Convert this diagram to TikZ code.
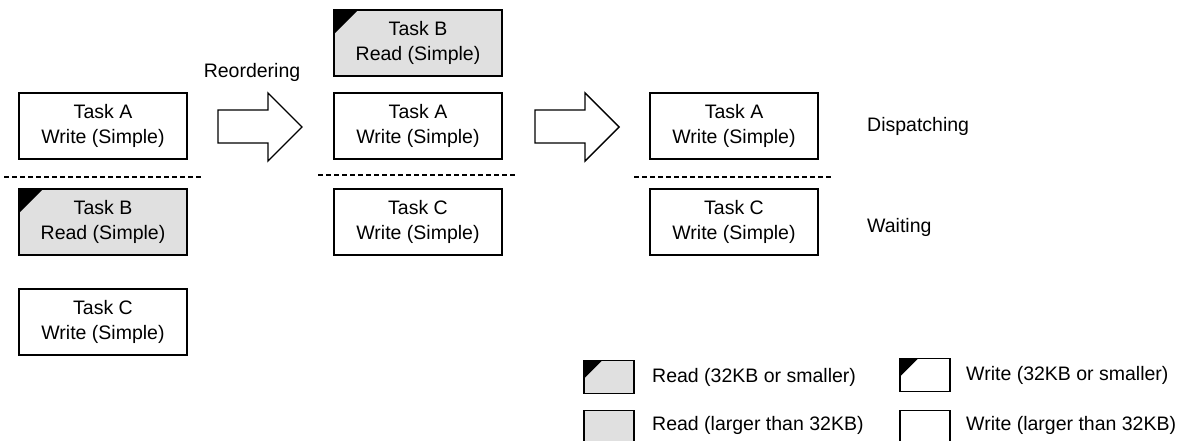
\documentclass[tikz,border=0pt]{standalone}
\usepackage{fontspec}
\setmainfont{Liberation Sans}
\begin{document}
\begin{tikzpicture}[x=1pt,y=-1pt,
  task/.style={draw, line width=1.6pt, minimum width=168pt, minimum height=66pt,
    align=center, inner sep=0pt, font=\fontsize{19.5}{25}\selectfont},
  rd/.style={fill=black!12},
  small/.style={path picture={\fill[black] (path picture bounding box.north west) -- ([xshift=#1]path picture bounding box.north west) -- ([yshift=-#1]path picture bounding box.north west) -- cycle;}},
  small/.default=24pt,
  sep/.style={dashed, dash pattern=on 5pt off 3pt, line width=1.3pt},
  blockarrow/.style={draw, line width=1.4pt, fill=white, line join=miter},
  lbl/.style={font=\fontsize{19.5}{22}\selectfont, inner sep=0pt},
  legbox/.style={draw, line width=1.6pt, minimum width=50pt, minimum height=33pt, inner sep=0pt}
]
\useasboundingbox (0,0) rectangle (1190,441);
% left column
\node[task] (a1) at (103,126) {Task A\\Write (Simple)};
\node[task, rd, small] (b1) at (103,222) {Task B\\Read (Simple)};
\node[task] (c1) at (103,322) {Task C\\Write (Simple)};
\coordinate (s1l) at (4,177); \coordinate (s1r) at (201,177);
\draw[sep] (s1l) -- (s1r);
% middle column
\node[task, rd, small] (b2) at (418,43) {Task B\\Read (Simple)};
\node[task] (a2) at (418,126) {Task A\\Write (Simple)};
\node[task] (c2) at (418,222) {Task C\\Write (Simple)};
\coordinate (s2l) at (318,175); \coordinate (s2r) at (516,175);
\draw[sep] (s2l) -- (s2r);
% right column
\node[task] (a3) at (734,126) {Task A\\Write (Simple)};
\node[task] (c3) at (734,222) {Task C\\Write (Simple)};
\coordinate (s3l) at (634,177); \coordinate (s3r) at (832,177);
\draw[sep] (s3l) -- (s3r);
% arrows
\draw[blockarrow] (218,110) -- (268,110) -- (268,93) -- (302,127) -- (268,161) -- (268,143) -- (218,143) -- cycle;
\draw[blockarrow] (535,110) -- (585,110) -- (585,93) -- (619,127) -- (585,161) -- (585,143) -- (535,143) -- cycle;
\node[lbl] (reo) at (252,72) {Reordering};
\node[lbl, anchor=west] (disp) at (867,126) {Dispatching};
\node[lbl, anchor=west] (wait) at (867,227) {Waiting};
% legend
\node[legbox, rd, small=18pt] (l1) at (609,377) {};
\node[lbl, anchor=west] (t1) at (652,377) {Read (32KB or smaller)};
\node[legbox, small=18pt] (l2) at (925,375) {};
\node[lbl, anchor=west] (t2) at (966,375) {Write (32KB or smaller)};
\node[legbox, rd] (l3) at (609,427) {};
\node[lbl, anchor=west] (t3) at (652,425) {Read (larger than 32KB)};
\node[legbox] (l4) at (925,427) {};
\node[lbl, anchor=west] (t4) at (966,425) {Write (larger than 32KB)};
\end{tikzpicture}
\end{document}
